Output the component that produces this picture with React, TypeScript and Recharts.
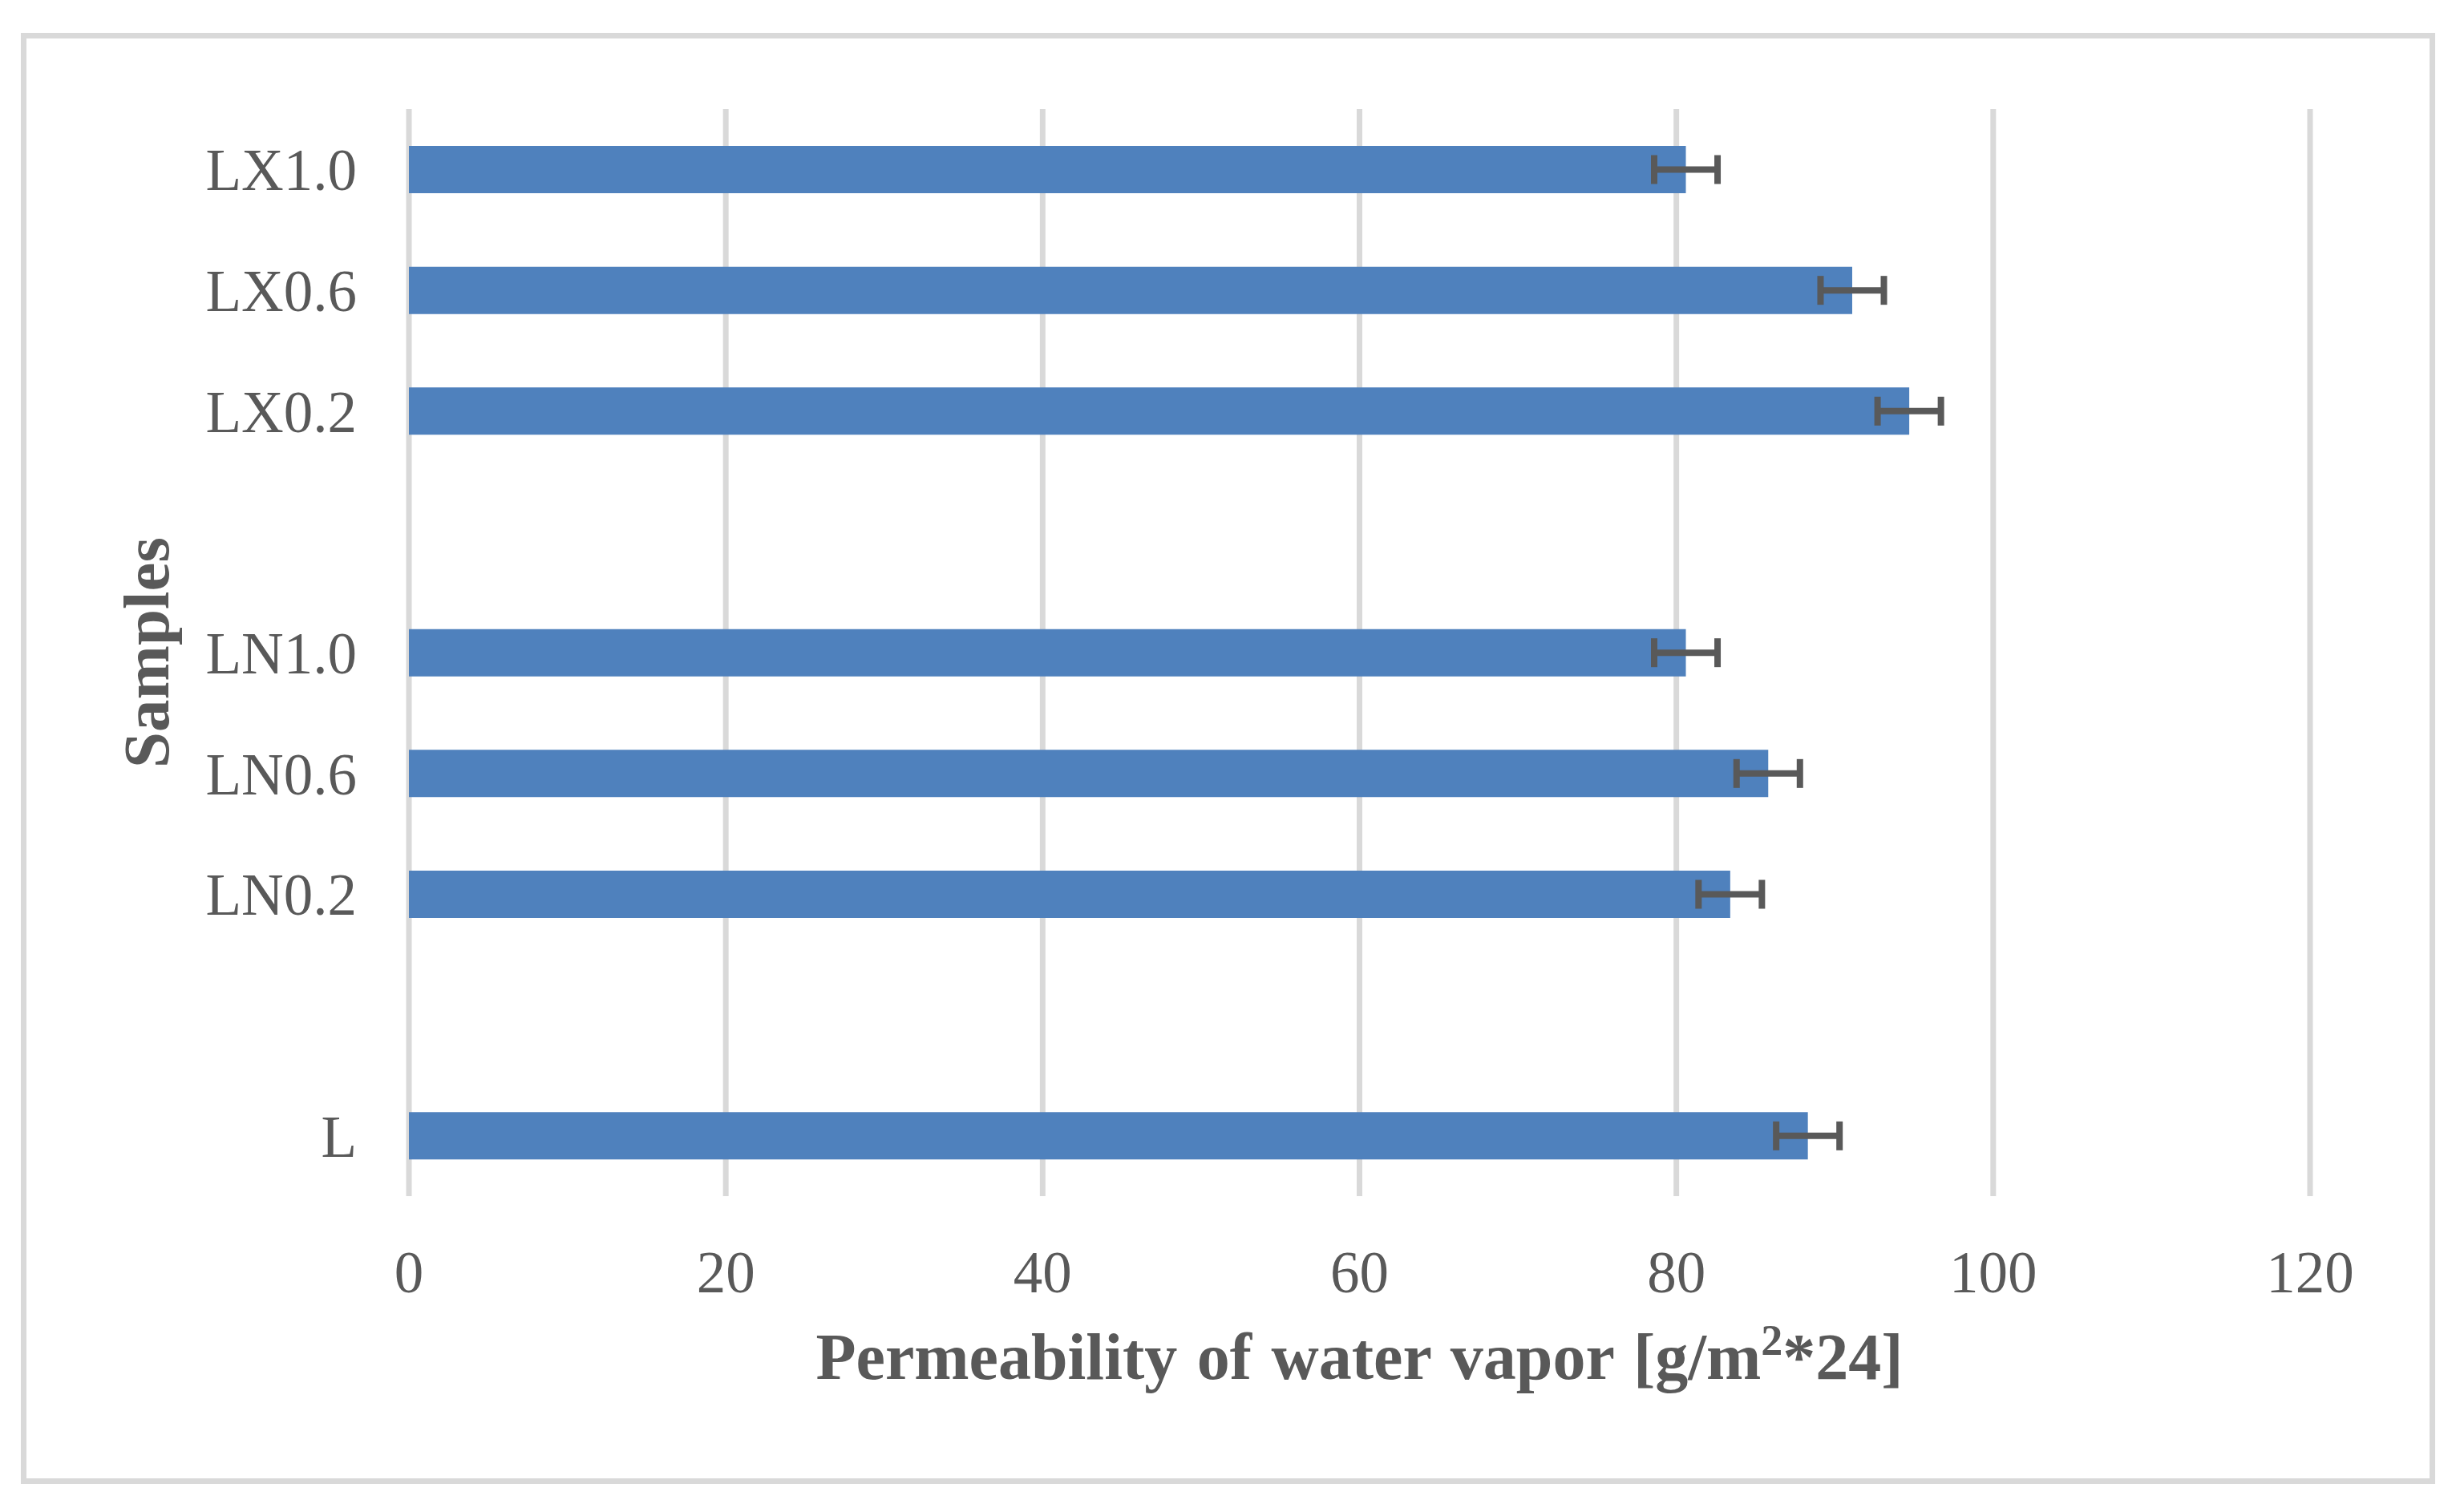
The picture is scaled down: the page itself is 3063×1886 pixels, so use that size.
import { Bar, BarChart, CartesianGrid, ErrorBar, Label, XAxis, YAxis } from 'recharts'

// top to bottom, blank entries are the gaps between groups
const samples = ['LX1.0', 'LX0.6', 'LX0.2', '', 'LN1.0', 'LN0.6', 'LN0.2', ' ', 'L']
const permeability = [80.6, 91.1, 94.7, null, 80.6, 85.8, 83.4, null, 88.3]
const permeabilityErr = [2.0, 2.0, 2.0, null, 2.0, 2.0, 2.0, null, 2.0]
const xTicks = [0, 20, 40, 60, 80, 100, 120]

const rows = samples.map((name, i) => ({
  name,
  value: permeability[i],
  err: permeabilityErr[i],
}))

const textColor = '#595959'
const gridColor = '#d9d9d9'
const barColor = '#4f81bd'
const serif = '"Liberation Serif", "Times New Roman", serif'

const tickStyle = { fill: textColor, fontSize: 73, fontFamily: serif }

function XTitle(props: any) {
  const vb = props.viewBox || {}
  return (
    <text
      x={vb.x + vb.width / 2}
      y={vb.y + 228}
      textAnchor="middle"
      fill={textColor}
      fontFamily={serif}
      fontWeight="bold"
      fontSize={82}
      wordSpacing={4}
    >
      <tspan>Permeability of water vapor [g/m</tspan>
      <tspan dy={-30} fontSize={54}>
        2
      </tspan>
      <tspan dy={30}>*24]</tspan>
    </text>
  )
}

function YTitle(props: any) {
  const vb = props.viewBox || {}
  const x = vb.x
  const y = vb.y + vb.height / 2
  return (
    <text
      x={x}
      y={y}
      transform={`rotate(-90, ${x}, ${y})`}
      textAnchor="middle"
      fill={textColor}
      fontFamily={serif}
      fontWeight="bold"
      fontSize={81}
    >
      Samples
    </text>
  )
}

export default function App() {
  return (
    <div
      style={{
        position: 'absolute',
        left: 0,
        top: 0,
        width: 3063,
        height: 1886,
        background: '#fff',
      }}
    >
      <div
        style={{
          position: 'absolute',
          left: 26,
          top: 41,
          width: 3011,
          height: 1810,
          border: `7px solid ${gridColor}`,
          boxSizing: 'border-box',
        }}
      />
      <div style={{ position: 'absolute', left: 0, top: 0 }}>
        <BarChart
          width={3063}
          height={1886}
          data={rows}
          layout="vertical"
          margin={{ top: 136, right: 182, bottom: 294, left: 210 }}
        >
          <CartesianGrid horizontal={false} stroke={gridColor} strokeWidth={7} />
          <XAxis
            type="number"
            domain={[0, 120]}
            ticks={xTicks}
            axisLine={false}
            tickLine={false}
            tickSize={0}
            tickMargin={68}
            height={100}
            tick={tickStyle}
          >
            <Label content={<XTitle />} />
          </XAxis>
          <YAxis
            type="category"
            dataKey="name"
            width={300}
            axisLine={false}
            tickLine={false}
            tickSize={0}
            tickMargin={65}
            interval={0}
            tick={tickStyle}
          >
            <Label content={<YTitle />} />
          </YAxis>
          <Bar dataKey="value" fill={barColor} barSize={59} isAnimationActive={false}>
            <ErrorBar
              dataKey="err"
              direction="x"
              width={18}
              stroke={textColor}
              strokeWidth={8}
              isAnimationActive={false}
            />
          </Bar>
        </BarChart>
      </div>
    </div>
  )
}
